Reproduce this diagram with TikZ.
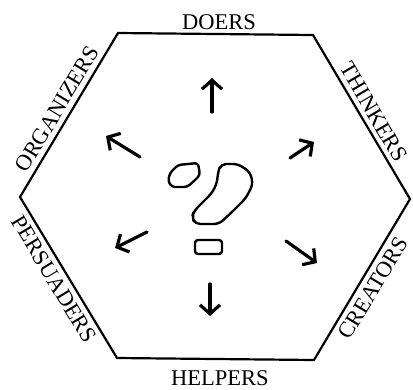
\documentclass[tikz,border=0pt]{standalone}
\usepackage{fontspec}
\setmainfont{Liberation Serif}
\usetikzlibrary{arrows.meta}
\begin{document}
\begin{tikzpicture}[x=1pt,y=-1pt,
  hexline/.style={line width=2.2pt, line join=miter},
  lbl/.style={font=\fontsize{22.5}{22.5}\selectfont, inner sep=0pt, text height=14.8pt, text depth=0pt},
  arr/.style={line width=3.2pt, line cap=round, -{Straight Barb[length=9pt,width=20pt]}},
  qm/.style={line width=2.4pt, line join=round, rounded corners=3pt}]
\useasboundingbox (0,0) rectangle (413,389);
% hexagon
\coordinate (tl) at (118,33);
\coordinate (tr) at (313,35);
\coordinate (r) at (410,199);
\coordinate (br) at (314,360);
\coordinate (bl) at (117,358);
\coordinate (l) at (20,197);
\draw[hexline] (tl) -- (tr) -- (r) -- (br) -- (bl) -- (l) -- cycle;
% labels
\node[lbl] (doers) at (219,22) {DOERS};
\node[lbl] (helpers) at (220,378) {HELPERS};
\node[lbl, rotate=59] (organizers) at (57,109) {ORGANIZERS};
\node[lbl, rotate=-59.5] (thinkers) at (374,112) {THINKERS};
\node[lbl, rotate=59] (creators) at (373,288) {CREATORS};
\node[lbl, rotate=-59] (persuaders) at (54,279) {PERSUADERS};
% arrows
\coordinate (a1s) at (212,112); \coordinate (a1e) at (212,78);
\coordinate (a2s) at (140,157); \coordinate (a2e) at (106,136);
\coordinate (a3s) at (290,158); \coordinate (a3e) at (314,142);
\coordinate (a4s) at (147,232); \coordinate (a4e) at (115,248);
\coordinate (a5s) at (286,241); \coordinate (a5e) at (317,263);
\coordinate (a6s) at (210,284); \coordinate (a6e) at (210,316);
\draw[arr] (a1s) -- (a1e);
\draw[arr] (a2s) -- (a2e);
\draw[arr] (a3s) -- (a3e);
\draw[arr] (a4s) -- (a4e);
\draw[arr] (a5s) -- (a5e);
\draw[arr] (a6s) -- (a6e);
% question mark
\draw[qm] (170,173) -- (178,165) -- (198,163) -- (200,175) -- (193,182) -- (187,187) -- (172,187) -- (168,181) -- cycle;
\draw[qm, rounded corners=5pt] (221,164) -- (238,164) -- (250,172) -- (253,184) -- (246,198) -- (232,212) -- (219,224) -- (195,224) -- (192,217) -- (194,211) -- (212,193) -- (217,183) -- (218,172) -- cycle;
\draw[qm] (195,240) rectangle (222,254);
\end{tikzpicture}
\end{document}
